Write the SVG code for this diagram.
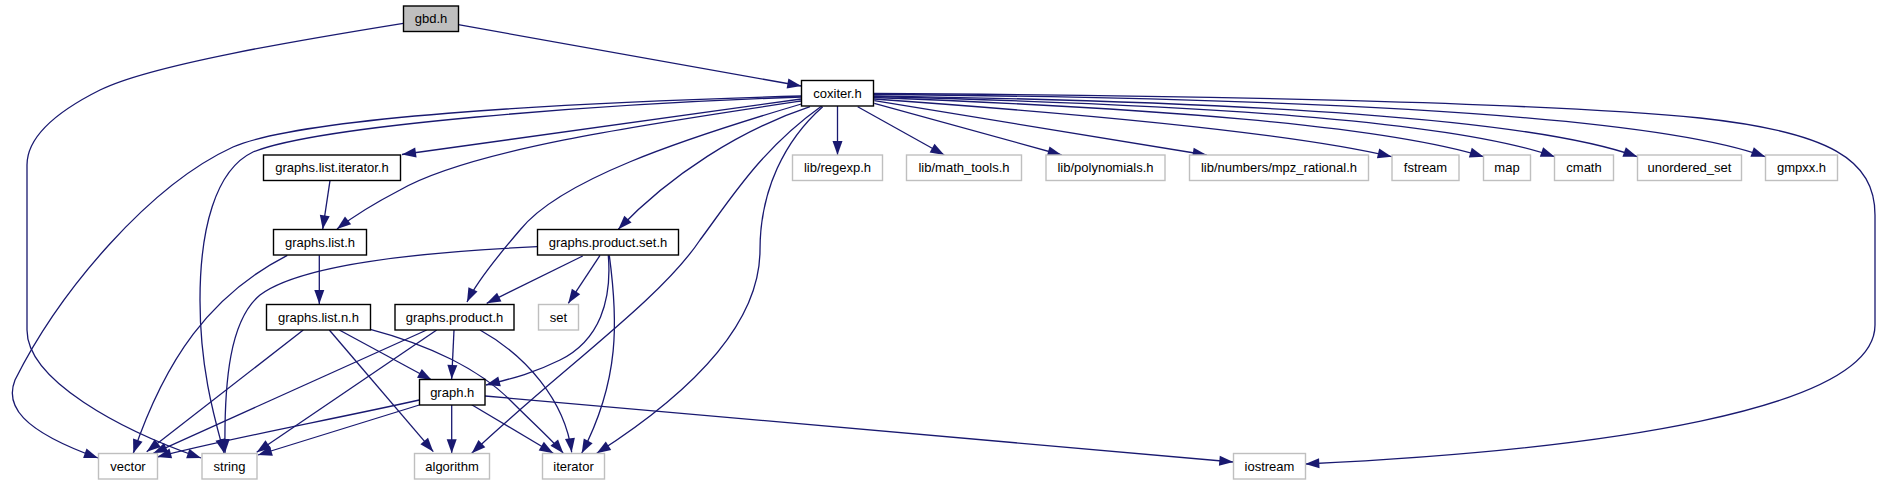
<svg xmlns="http://www.w3.org/2000/svg" width="1882" height="485" viewBox="0 0 1882 485">
<style>
.n rect{fill:#ffffff;stroke:#000000;stroke-width:1.4}
.n.root rect{fill:#bfbfbf}
.n.ext rect{stroke:#bfbfbf}
.n text{font-family:"Liberation Sans",Arial,Helvetica,sans-serif;font-size:13px;text-anchor:middle;fill:#000000}
#edges path{fill:none;stroke:#191970;stroke-width:1.3;marker-end:url(#arr)}
</style>
<defs>
<marker id="arr" markerUnits="userSpaceOnUse" viewBox="0 0 14 10" markerWidth="14" markerHeight="10" refX="14" refY="5" orient="auto" overflow="visible">
<path d="M0,0 L14,5 L0,10 z" fill="#191970"/>
</marker>
</defs>
<rect width="1882" height="485" fill="#ffffff"/>
<g id="edges">
<path d="M458.3,24.7 L801.3,86"/>
<path d="M403.3,23.3 C300,40 150,65 100,90 C50,115 27,140 27,165 L27,330 C27,380 120,430 201,458"/>
<path d="M801.3,99 L402,154.5"/>
<path d="M801.3,101 C640,125 470,150 400,190 C375,203 355,215 337,229"/>
<path d="M801.3,96 C550,103 300,118 233,147 C150,185 60,290 15,380 C5,405 20,430 98,458"/>
<path d="M801.3,97 C600,104 320,125 253,152 C215,170 200,230 200,300 C200,370 215,420 224,453"/>
<path d="M801.3,104 C680,140 560,180 520,230 C490,265 475,285 467,302"/>
<path d="M810,106.7 C740,130 670,175 618.3,229.3"/>
<path d="M821.7,106 C760,150 730,200 700,240 C660,300 560,370 471.7,453.3"/>
<path d="M822.7,106.7 C785,140 760,190 760,250 C760,330 680,400 596.7,453.3"/>
<path d="M837.5,106 L837.5,155"/>
<path d="M857.7,106.7 L944.3,155"/>
<path d="M874.3,103.3 L1061.7,155"/>
<path d="M874.3,100.7 L1206.7,155"/>
<path d="M874,99 C1100,115 1300,135 1391.7,156.7"/>
<path d="M874,97.5 C1150,108 1380,125 1483.7,156.7"/>
<path d="M874,96.5 C1200,105 1450,120 1554.7,156.7"/>
<path d="M874,95.8 C1250,102 1530,118 1637.3,156.7"/>
<path d="M874,94.5 C1300,98 1650,115 1765.3,156.7"/>
<path d="M873.3,93.5 C1200,95 1550,103 1700,118 C1830,132 1875,160 1875,215 L1875,325 C1875,410 1600,450 1305.3,464"/>
<path d="M330,180.7 L322.7,229.3"/>
<path d="M319.3,255.3 L319.3,304"/>
<path d="M287.3,255.3 C210,295 165,360 133.3,453.3"/>
<path d="M537.3,246.7 C420,252 300,265 260,295 C230,320 224,380 225,453"/>
<path d="M582.7,256 L486.7,303.3"/>
<path d="M600,255.3 L568.3,303.3"/>
<path d="M608.3,255.3 C612,300 600,340 560,360 C530,375 505,380 486,385"/>
<path d="M609.3,255.3 C618,320 620,380 581.7,453.3"/>
<path d="M303.3,330 L146.7,451.7"/>
<path d="M329.3,330 L433.3,451.7"/>
<path d="M339.3,330 L431.7,380"/>
<path d="M370.3,329.3 C430,345 480,370 510,400 C535,425 552,440 563.3,453.3"/>
<path d="M454,330 L451.7,379"/>
<path d="M426.7,330 L153.3,453.3"/>
<path d="M436.7,330 L256.7,452.3"/>
<path d="M480,330 C525,355 565,400 571.7,452.3"/>
<path d="M419.3,400 C330,420 220,440 157.3,457"/>
<path d="M419.3,405 L258,455"/>
<path d="M451.7,404.7 L451.7,453.3"/>
<path d="M471.7,404.7 L553.3,453.3"/>
<path d="M485,396 L1233.3,462"/>
</g>
<g id="n_gbd" class="n root"><rect x="403.5" y="6" width="55" height="25.5"/><text x="431" y="23.2">gbd.h</text></g>
<g id="n_coxiter" class="n"><rect x="801.5" y="80.5" width="72" height="25.5"/><text x="837.5" y="97.7">coxiter.h</text></g>
<g id="n_gli" class="n"><rect x="263.5" y="155" width="137" height="25.5"/><text x="332" y="172.2">graphs.list.iterator.h</text></g>
<g id="n_gl" class="n"><rect x="273.5" y="229.5" width="93" height="25.5"/><text x="320" y="246.7">graphs.list.h</text></g>
<g id="n_gln" class="n"><rect x="266.5" y="304.5" width="104" height="25.5"/><text x="318.5" y="321.7">graphs.list.n.h</text></g>
<g id="n_gp" class="n"><rect x="395" y="304.5" width="119" height="25.5"/><text x="454.5" y="321.7">graphs.product.h</text></g>
<g id="n_gps" class="n"><rect x="537.5" y="229.5" width="141" height="25.5"/><text x="608" y="246.7">graphs.product.set.h</text></g>
<g id="n_graph" class="n"><rect x="419.5" y="379.5" width="65.5" height="25.5"/><text x="452.2" y="396.7">graph.h</text></g>
<g id="n_set" class="n ext"><rect x="538.5" y="304.5" width="40" height="25.5"/><text x="558.5" y="321.7">set</text></g>
<g id="n_vector" class="n ext"><rect x="98.5" y="453.5" width="59" height="25.5"/><text x="128" y="470.7">vector</text></g>
<g id="n_string" class="n ext"><rect x="202" y="453.5" width="55" height="25.5"/><text x="229.5" y="470.7">string</text></g>
<g id="n_algorithm" class="n ext"><rect x="414.5" y="453.5" width="75" height="25.5"/><text x="452" y="470.7">algorithm</text></g>
<g id="n_iterator" class="n ext"><rect x="542.5" y="453.5" width="62" height="25.5"/><text x="573.5" y="470.7">iterator</text></g>
<g id="n_iostream" class="n ext"><rect x="1233.5" y="453.5" width="72" height="25.5"/><text x="1269.5" y="470.7">iostream</text></g>
<g id="n_regexp" class="n ext"><rect x="792.5" y="155" width="90" height="25.5"/><text x="837.5" y="172.2">lib/regexp.h</text></g>
<g id="n_math" class="n ext"><rect x="906.5" y="155" width="115" height="25.5"/><text x="964" y="172.2">lib/math_tools.h</text></g>
<g id="n_poly" class="n ext"><rect x="1046" y="155" width="119" height="25.5"/><text x="1105.5" y="172.2">lib/polynomials.h</text></g>
<g id="n_mpz" class="n ext"><rect x="1189.5" y="155" width="179" height="25.5"/><text x="1279" y="172.2">lib/numbers/mpz_rational.h</text></g>
<g id="n_fstream" class="n ext"><rect x="1392" y="155" width="67" height="25.5"/><text x="1425.5" y="172.2">fstream</text></g>
<g id="n_map" class="n ext"><rect x="1483.5" y="155" width="47" height="25.5"/><text x="1507" y="172.2">map</text></g>
<g id="n_cmath" class="n ext"><rect x="1554.5" y="155" width="59" height="25.5"/><text x="1584" y="172.2">cmath</text></g>
<g id="n_uset" class="n ext"><rect x="1637.5" y="155" width="104" height="25.5"/><text x="1689.5" y="172.2">unordered_set</text></g>
<g id="n_gmpxx" class="n ext"><rect x="1765.5" y="155" width="72" height="25.5"/><text x="1801.5" y="172.2">gmpxx.h</text></g>
</svg>
